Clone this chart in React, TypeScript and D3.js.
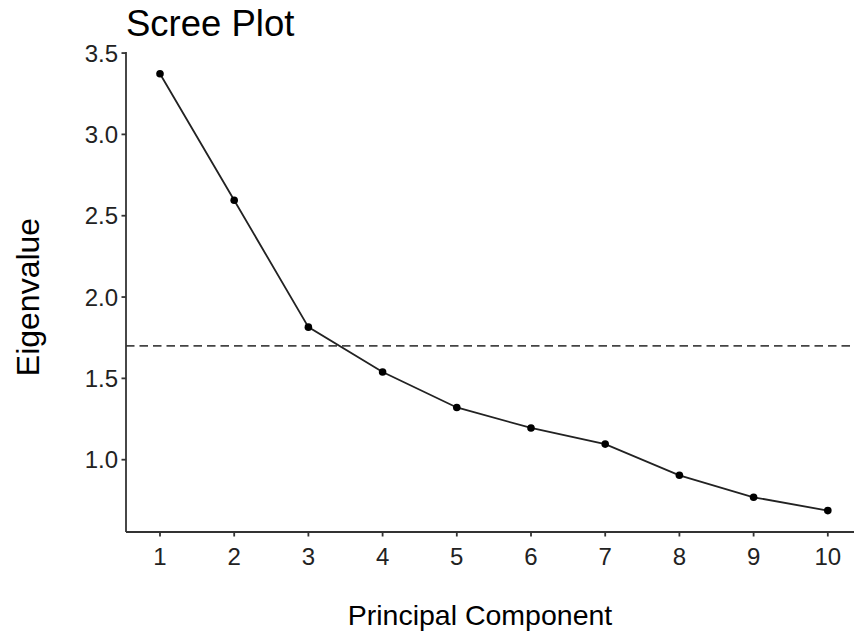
import React from "react";
import * as d3 from "d3";

// Eigenvalues by principal component
const components = [1, 2, 3, 4, 5, 6, 7, 8, 9, 10];
const eigenvalues = [3.373, 2.595, 1.815, 1.539, 1.321, 1.195, 1.096, 0.904, 0.769, 0.687];
const yTicks = [1.0, 1.5, 2.0, 2.5, 3.0, 3.5];
const cutoff = 1.7;

const W = 854;
const H = 632;
const left = 126;
const top = 52;
const bottom = 532;
const font = "'Liberation Sans', Arial, Helvetica, sans-serif";

export default function App() {
  const x = d3.scaleLinear().domain([0.55, 10.45]).range([126.6, 861.2]);
  const y = d3.scaleLinear().domain([0.5555, 3.5065]).range([bottom, top]);
  const line = d3
    .line<number>()
    .x((_, i) => x(components[i]))
    .y((d) => y(d));

  return (
    <svg
      width={W}
      height={H}
      style={{ position: "absolute", left: 0, top: 0, display: "block", background: "#fff" }}
      fontFamily={font}
    >
      <text x={126} y={36} fontSize={36.5} fill="#000">Scree Plot</text>

      {/* dashed reference line */}
      <line
        x1={left}
        x2={W}
        y1={y(cutoff)}
        y2={y(cutoff)}
        stroke="#444"
        strokeWidth={1.9}
        strokeDasharray="8.5,5"
      />

      <path d={line(eigenvalues) || ""} fill="none" stroke="#222" strokeWidth={1.8} />
      {eigenvalues.map((v, i) => (
        <circle key={i} cx={x(components[i])} cy={y(v)} r={3.8} fill="#000" />
      ))}

      {/* axes */}
      <line x1={left} x2={left} y1={top} y2={bottom} stroke="#333" strokeWidth={1.8} />
      <line x1={left} x2={W} y1={bottom} y2={bottom} stroke="#333" strokeWidth={1.8} />
      {yTicks.map((t) => (
        <g key={t}>
          <line x1={left - 4.5} x2={left} y1={y(t)} y2={y(t)} stroke="#333" strokeWidth={1.8} />
          <text x={118} y={y(t)} dy="0.36em" textAnchor="end" fontSize={24} fill="#222">
            {t.toFixed(1)}
          </text>
        </g>
      ))}
      {components.map((c) => (
        <g key={c}>
          <line x1={x(c)} x2={x(c)} y1={bottom} y2={bottom + 4.5} stroke="#333" strokeWidth={1.8} />
          <text x={x(c)} y={565} textAnchor="middle" fontSize={24} fill="#222">
            {c}
          </text>
        </g>
      ))}

      <text x={480} y={625} textAnchor="middle" fontSize={28.5} fill="#000">
        Principal Component
      </text>
      <text
        transform="translate(39, 297) rotate(-90)"
        textAnchor="middle"
        fontSize={32}
        fill="#000"
      >
        Eigenvalue
      </text>
    </svg>
  );
}
